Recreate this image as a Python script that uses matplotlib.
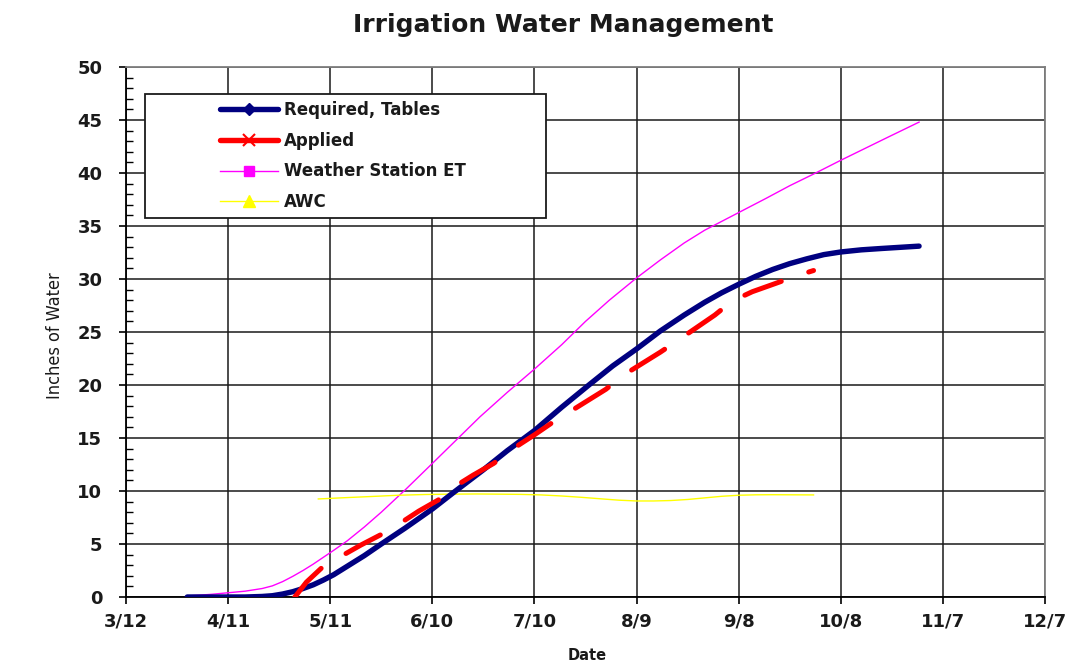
import matplotlib
matplotlib.use("Agg")
import matplotlib.pyplot as plt
from matplotlib.lines import Line2D
from matplotlib.patches import Rectangle
from matplotlib.ticker import MultipleLocator
from matplotlib import font_manager
from matplotlib.font_manager import FontProperties

# ---------------- data (days after 3/12) ----------------
tick_days = [0, 30, 60, 90, 120, 150, 180, 210, 240, 270]
tick_labels = ['3/12', '4/11', '5/11', '6/10', '7/10', '8/9', '9/8', '10/8', '11/7', '12/7']

req_days = [18, 25, 30, 35, 40, 43, 46, 49, 52, 55, 58, 61, 65, 70, 75, 82, 90, 96, 105, 112,
            120, 128, 136, 143, 150, 157, 164, 170, 175, 180, 185, 190, 195, 200, 205, 210,
            216, 222, 228, 233]
req_vals = [0, 0, 0, 0, 0.05, 0.12, 0.28, 0.5, 0.8, 1.15, 1.6, 2.1, 2.9, 3.9, 5.0, 6.5, 8.3,
            9.8, 12.0, 13.8, 15.7, 17.9, 20.0, 21.8, 23.4, 25.1, 26.6, 27.8, 28.7, 29.5, 30.25,
            30.9, 31.45, 31.9, 32.3, 32.55, 32.75, 32.88, 33.0, 33.1]

app_days = [49.6, 53, 57.5, 63.5, 69, 75, 81, 86, 92, 97, 102, 108, 114, 120, 125, 130,
            135, 141, 146, 151, 157, 163, 168, 173, 178, 184, 191, 197, 202]
app_vals = [0, 1.4, 2.75, 3.9, 4.9, 5.9, 7.05, 8.1, 9.2, 10.5, 11.5, 12.6, 14.05, 15.3, 16.4, 17.4,
            18.4, 19.6, 20.9, 21.9, 23.1, 24.4, 25.5, 26.6, 27.9, 28.8, 29.6, 30.3, 30.8]

et_days = [18, 25, 30, 35, 40, 43, 46, 49, 52, 55, 58, 61, 65, 70, 75, 82, 90, 97, 104, 112,
           120, 128, 135, 142, 150, 157, 164, 170, 176, 182, 188, 195, 202, 210, 217, 224, 233]
et_vals = [0.1, 0.25, 0.4, 0.55, 0.8, 1.05, 1.45, 1.95, 2.5, 3.1, 3.75, 4.4, 5.3, 6.6, 8.0,
           10.1, 12.6, 14.8, 17.0, 19.3, 21.5, 23.8, 26.0, 28.0, 30.1, 31.8, 33.4, 34.6, 35.6,
           36.6, 37.6, 38.8, 39.9, 41.2, 42.3, 43.4, 44.8]

awc_days = [56.5, 65, 72, 80, 88, 95, 103, 110, 116, 122, 128, 134, 140, 145, 150, 155, 160,
            165, 170, 175, 180, 185, 190, 196, 202]
awc_vals = [9.25, 9.38, 9.48, 9.6, 9.67, 9.7, 9.72, 9.7, 9.68, 9.63, 9.53, 9.4, 9.25, 9.13,
            9.06, 9.06, 9.1, 9.2, 9.35, 9.5, 9.6, 9.64, 9.65, 9.64, 9.63]

series_names = ['Required, Tables', 'Applied', 'Weather Station ET', 'AWC']

# ---------------- fonts ----------------
plt.rcParams['font.family'] = ['DejaVu Sans']
cond = None
for f in font_manager.fontManager.ttflist:
    nm = f.name.lower()
    st = str(f.stretch).lower()
    if (('narrow' in nm or 'condensed' in nm or 'condensed' in st)
            and str(f.weight) in ('400', 'normal', 'regular') and f.style == 'normal'):
        cond = f.fname
        if 'liberation' in nm or 'dejavu' in nm:
            break
if cond:
    ylab_prop = FontProperties(fname=cond, size=13)
else:
    ylab_prop = FontProperties(family='DejaVu Sans', size=11)

W, H = 1071, 666
fig = plt.figure(figsize=(W / 100, H / 100), dpi=100)
ax = fig.add_axes([126 / W, 1 - 597 / H, (1045 - 126) / W, (597 - 67) / H])

ax.set_xlim(0, 270)
ax.set_ylim(0, 50)
ax.set_xticks(tick_days)
ax.set_xticklabels(tick_labels)
ax.yaxis.set_major_locator(MultipleLocator(5))
ax.yaxis.set_minor_locator(MultipleLocator(1))

ax.grid(True, which='major', color='#1a1a1a', linewidth=1.1)
ax.set_axisbelow(True)

for s in ['left', 'bottom']:
    ax.spines[s].set_color('black')
    ax.spines[s].set_linewidth(1.3)
for s in ['top', 'right']:
    ax.spines[s].set_color('#7f7f7f')
    ax.spines[s].set_linewidth(1.3)

ax.tick_params(axis='both', which='major', direction='out', length=5, width=1.2,
               labelsize=13, colors='black')
ax.tick_params(axis='y', which='minor', direction='in', length=5, width=1.0)
ax.tick_params(axis='y', which='major', pad=12)
ax.tick_params(axis='x', which='major', pad=6)
for lab in ax.get_xticklabels() + ax.get_yticklabels():
    lab.set_fontweight('bold')
    lab.set_color('#1a1a1a')

# ---------------- series ----------------
ax.plot(et_days, et_vals, color='#ff00ff', lw=1.0, zorder=4)
ax.plot(awc_days, awc_vals, color='#ffff00', lw=1.0, zorder=4)
ax.plot(req_days, req_vals, color='#000080', lw=3.9, solid_capstyle='round',
        solid_joinstyle='round', zorder=5)
ax.plot(app_days, app_vals, color='#ff0000', lw=3.6, linestyle=(0, (7.8, 5.8)),
        dash_capstyle='round', dash_joinstyle='round', zorder=6)

# ---------------- legend ----------------
box = Rectangle((145 / W, 1 - 218 / H), 401 / W, 124 / H, transform=fig.transFigure,
                facecolor='white', edgecolor='#1a1a1a', linewidth=1.3, zorder=3,
                clip_on=False)
ax.add_patch(box)

handles = [
    Line2D([], [], color='#000080', lw=3.9, marker='D', markersize=6,
           solid_capstyle='round'),
    Line2D([], [], color='#ff0000', lw=3.9, marker='x', markersize=8, mew=1.5,
           solid_capstyle='round'),
    Line2D([], [], color='#ff00ff', lw=1.0, marker='s', markersize=7),
    Line2D([], [], color='#ffff00', lw=1.0, marker='^', markersize=8),
]
leg = ax.legend(handles, series_names, loc='upper left',
                bbox_to_anchor=(220 / W, 1 - 101 / H), bbox_transform=fig.transFigure,
                frameon=False, borderpad=0, borderaxespad=0, handlelength=3.5,
                handletextpad=0.35, labelspacing=0.76,
                prop={'weight': 'bold', 'size': 12})
leg.set_zorder(7)
for t in leg.get_texts():
    t.set_color('#1a1a1a')

# ---------------- titles ----------------
fig.text(563 / W, 1 - 32 / H, 'Irrigation Water Management', ha='center', va='baseline',
         fontsize=18, fontweight='bold', color='#1a1a1a')
fig.text(587 / W, 1 - 656 / H, 'Date', ha='center', va='center', fontsize=10.5,
         fontweight='bold', color='#1a1a1a')
fig.text(55 / W, 1 - 336 / H, 'Inches of Water', ha='center', va='center', rotation=90,
         fontproperties=ylab_prop, color='#1a1a1a')

fig.savefig('out.png', dpi=100)
